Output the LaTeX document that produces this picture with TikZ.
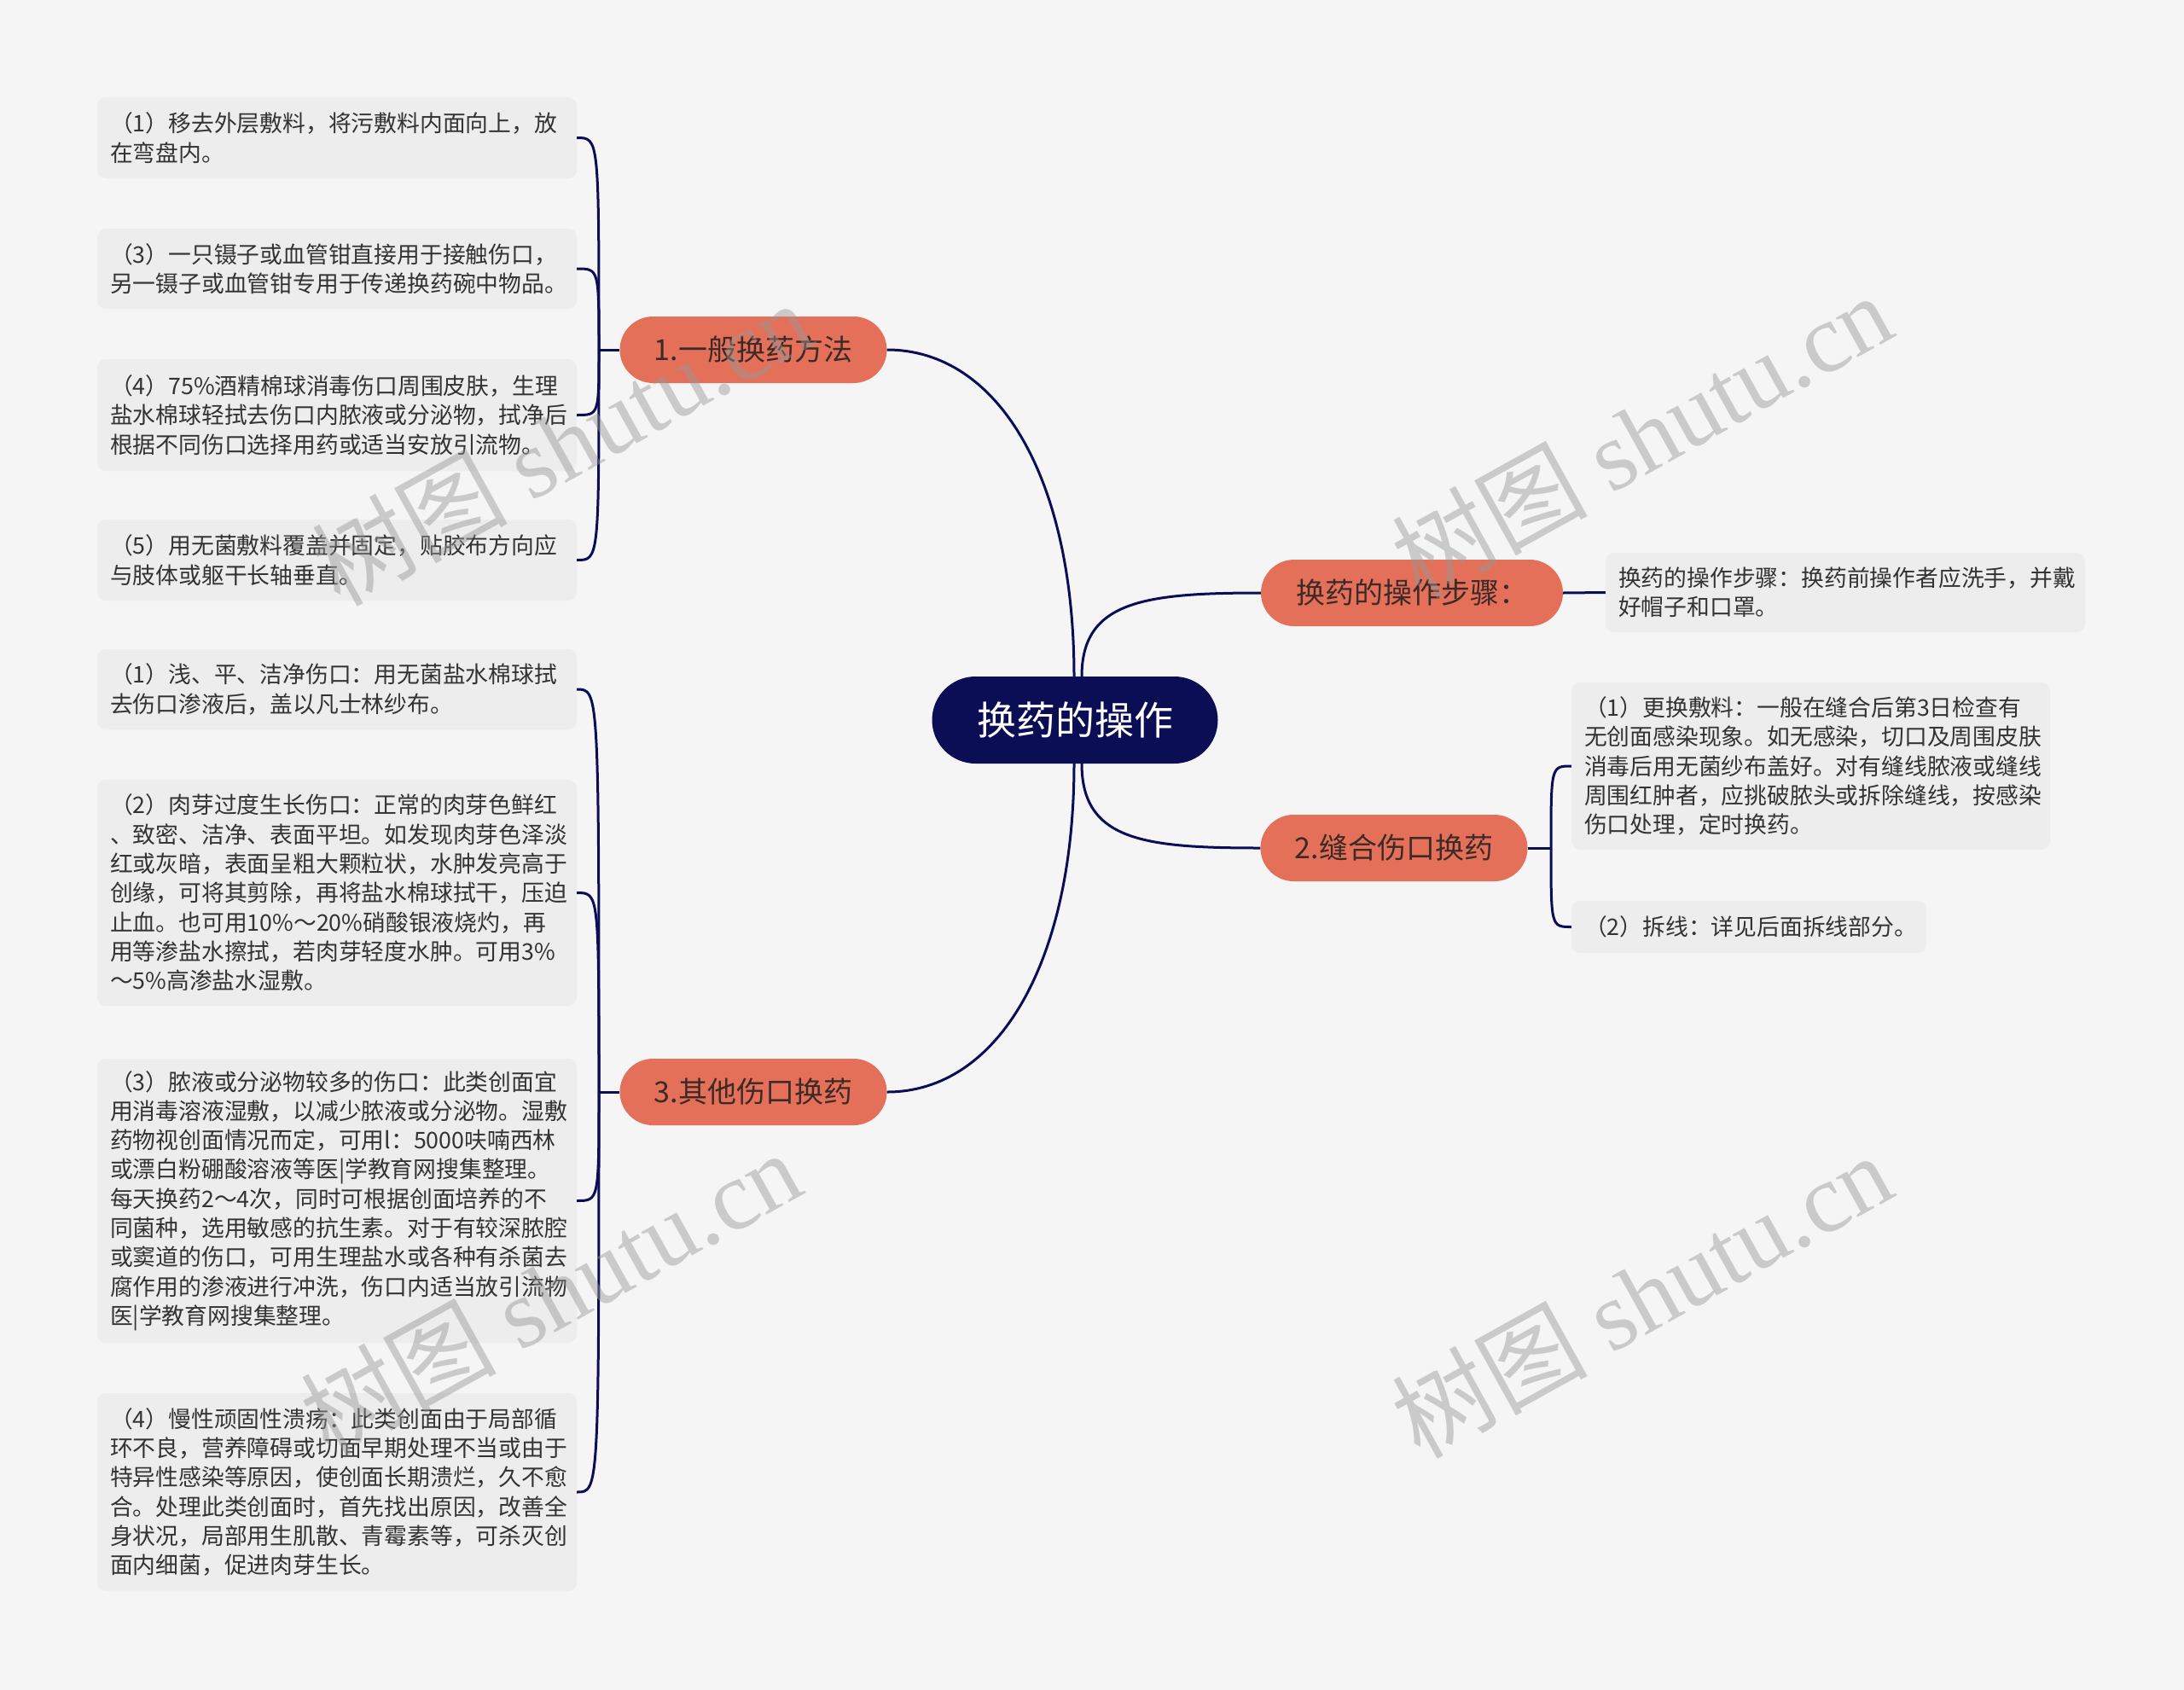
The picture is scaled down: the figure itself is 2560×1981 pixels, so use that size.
\documentclass[tikz,border=0pt]{standalone}
\usepackage{fontspec}
\setmainfont{Noto Sans CJK SC}
\newfontfamily\wmlatin{Liberation Serif}
\definecolor{bgc}{HTML}{F5F5F5}
\definecolor{navy}{HTML}{0B0E55}
\definecolor{salmon}{HTML}{E5705A}
\definecolor{brtext}{HTML}{3B2A26}
\definecolor{leafc}{HTML}{EDEDED}
\definecolor{leaftext}{HTML}{333333}
\definecolor{wmc}{RGB}{150,150,150}
\begin{document}
\begin{tikzpicture}[x=1pt,y=-1pt,
  rootnode/.style={fill=navy, text=white, rounded corners=51pt, minimum width=335pt, minimum height=102pt, inner sep=0pt, font=\fontsize{46}{56}\selectfont},
  branchnode/.style={fill=salmon, text=brtext, rounded corners=39pt, minimum height=78pt, inner sep=0pt, font=\fontsize{34}{40}\selectfont},
  leafnode/.style={fill=leafc, text=leaftext, rounded corners=10pt, inner xsep=15pt, inner ysep=2pt, align=left, font=\fontsize{26.8}{34.3}\selectfont},
  conn/.style={draw=navy, line width=3pt},
  wm/.style={rotate=29, text=wmc, opacity=0.45, font=\fontsize{115}{120}\selectfont}
]
\fill[bgc] (0,0) rectangle (2560,1981);
\useasboundingbox (0,0) rectangle (2560,1981);

% root and branches
\node[rootnode] (root) at (1260,844) {换药的操作};
\node[branchnode, minimum width=313pt] (b1) at (883,410) {1.一般换药方法};
\node[branchnode, minimum width=354pt] (bs) at (1655,695) {换药的操作步骤：};
\node[branchnode, minimum width=313pt] (b2) at (1634,994) {2.缝合伤口换药};
\node[branchnode, minimum width=313pt] (b3) at (883,1280) {3.其他伤口换药};

% left leaves of branch 1
\node[leafnode, text width=532pt, minimum height=95pt] (l1) at (395,161.5) {（1）移去外层敷料，将污敷料内面向上，放\\在弯盘内。};
\node[leafnode, text width=532pt, minimum height=94pt] (l3) at (395,315) {（3）一只镊子或血管钳直接用于接触伤口，\\另一镊子或血管钳专用于传递换药碗中物品。};
\node[leafnode, text width=532pt, minimum height=131pt] (l4) at (395,486.5) {（4）75\%酒精棉球消毒伤口周围皮肤，生理\\盐水棉球轻拭去伤口内脓液或分泌物，拭净后\\根据不同伤口选择用药或适当安放引流物。};
\node[leafnode, text width=532pt, minimum height=95pt] (l5) at (395,656.5) {（5）用无菌敷料覆盖并固定，贴胶布方向应\\与肢体或躯干长轴垂直。};

% left leaves of branch 3
\node[leafnode, text width=532pt, minimum height=94pt] (m1) at (395,808) {（1）浅、平、洁净伤口：用无菌盐水棉球拭\\去伤口渗液后，盖以凡士林纱布。};
\node[leafnode, text width=532pt, minimum height=265pt] (m2) at (395,1046.5) {（2）肉芽过度生长伤口：正常的肉芽色鲜红\\、致密、洁净、表面平坦。如发现肉芽色泽淡\\红或灰暗，表面呈粗大颗粒状，水肿发亮高于\\创缘，可将其剪除，再将盐水棉球拭干，压迫\\止血。也可用10\%～20\%硝酸银液烧灼，再\\用等渗盐水擦拭，若肉芽轻度水肿。可用3\%\\～5\%高渗盐水湿敷。};
\node[leafnode, text width=532pt, minimum height=333pt] (m3) at (395,1407.5) {（3）脓液或分泌物较多的伤口：此类创面宜\\用消毒溶液湿敷，以减少脓液或分泌物。湿敷\\药物视创面情况而定，可用l：5000呋喃西林\\或漂白粉硼酸溶液等医|学教育网搜集整理。\\每天换药2～4次，同时可根据创面培养的不\\同菌种，选用敏感的抗生素。对于有较深脓腔\\或窦道的伤口，可用生理盐水或各种有杀菌去\\腐作用的渗液进行冲洗，伤口内适当放引流物\\医|学教育网搜集整理。};
\node[leafnode, text width=532pt, minimum height=232pt] (m4) at (395,1749) {（4）慢性顽固性溃疡：此类创面由于局部循\\环不良，营养障碍或切面早期处理不当或由于\\特异性感染等原因，使创面长期溃烂，久不愈\\合。处理此类创面时，首先找出原因，改善全\\身状况，局部用生肌散、青霉素等，可杀灭创\\面内细菌，促进肉芽生长。};

% right leaves
\node[leafnode, text width=532pt, minimum height=93pt] (r0) at (2163,694.5) {换药的操作步骤：换药前操作者应洗手，并戴\\好帽子和口罩。};
\node[leafnode, text width=531pt, minimum height=196pt] (r1) at (2122.5,898) {（1）更换敷料：一般在缝合后第3日检查有\\无创面感染现象。如无感染，切口及周围皮肤\\消毒后用无菌纱布盖好。对有缝线脓液或缝线\\周围红肿者，应挑破脓头或拆除缝线，按感染\\伤口处理，定时换药。};
\node[leafnode, text width=386pt, minimum height=61pt] (r2) at (2050,1086.5) {（2）拆线：详见后面拆线部分。};

% root connectors
\draw[conn] ([xshift=-1pt]root.north) .. controls (1259,560) and (1170,410) .. (b1.east);
\draw[conn] ([xshift=-1pt]root.south) .. controls (1259,1128) and (1170,1280) .. (b3.east);
\draw[conn] ([xshift=8pt]root.north) .. controls (1268,705) and (1340,695) .. (bs.west);
\draw[conn] ([xshift=8pt]root.south) .. controls (1268,985) and (1340,994) .. (b2.west);

% branch 1 bracket
\coordinate (k1) at (702,410);
\draw[conn] (b1.west) -- (k1);
\foreach \n/\y in {l1/161.5, l3/315, l4/486.5, l5/656.5}
  \draw[conn] (k1) .. controls (702,\y) .. (\n.east);

% branch 3 bracket
\coordinate (k3) at (702,1280);
\draw[conn] (b3.west) -- (k3);
\foreach \n/\y in {m1/808, m2/1046.5, m3/1407.5, m4/1749}
  \draw[conn] (k3) .. controls (702,\y) .. (\n.east);

% right connectors
\draw[conn] (bs.east) -- (r0.west);
\coordinate (k2) at (1818,994);
\draw[conn] (b2.east) -- (k2);
\draw[conn] (k2) .. controls (1818,898) .. (r1.west);
\draw[conn] (k2) .. controls (1818,1086.5) .. (r2.west);

% watermarks
\node[wm] (wm1) at (658,519) {树图 {\wmlatin shutu.cn}};
\node[wm] (wm2) at (1924,510) {树图 {\wmlatin shutu.cn}};
\node[wm] (wm3) at (645,1515) {树图 {\wmlatin shutu.cn}};
\node[wm] (wm4) at (1924,1518) {树图 {\wmlatin shutu.cn}};
\end{tikzpicture}
\end{document}
